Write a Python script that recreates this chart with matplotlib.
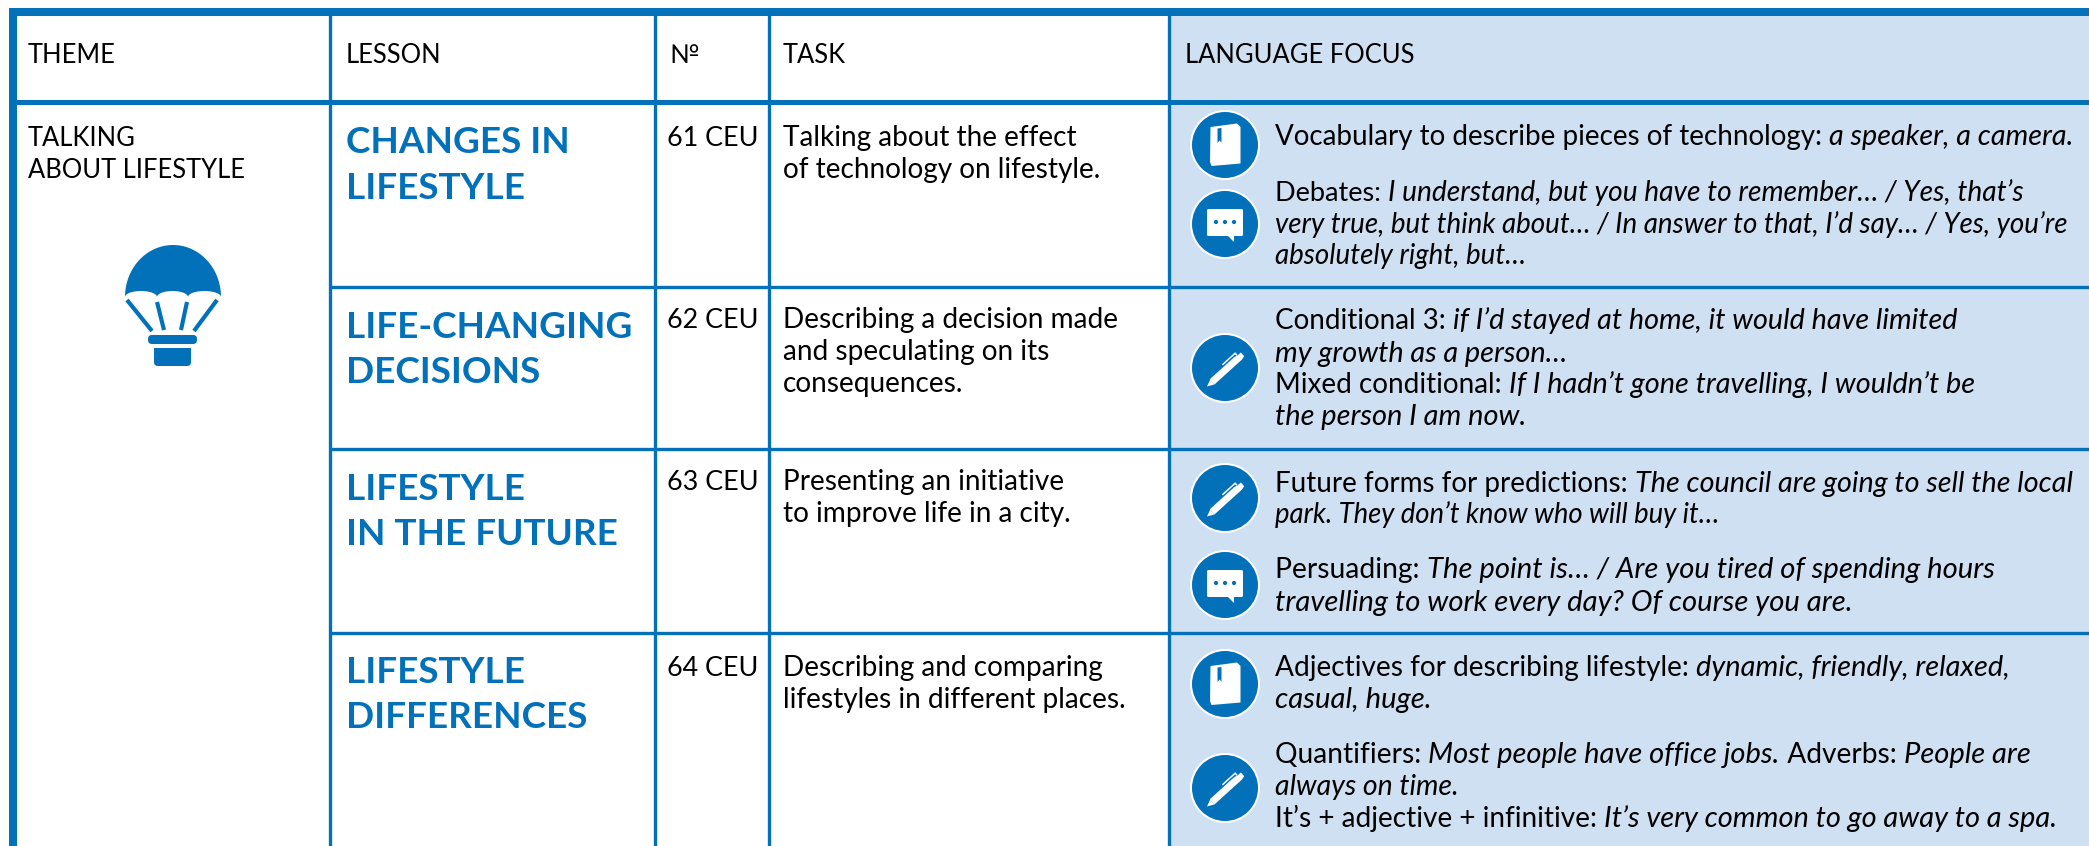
import matplotlib
matplotlib.use("Agg")
import numpy as np
import matplotlib.pyplot as plt
from matplotlib.patches import Circle, FancyBboxPatch, Polygon, Rectangle

BLUE = "#0271BA"
PALE = "#CFE0F3"
FONT = "Lato"
W, H = 2089, 846

headers = ["THEME", "LESSON", "№", "TASK", "LANGUAGE FOCUS"]
header_x = [28, 346, 669, 783, 1185]
theme_lines = ["TALKING", "ABOUT LIFESTYLE"]
lessons = [["CHANGES IN", "LIFESTYLE"], ["LIFE-CHANGING", "DECISIONS"], ["LIFESTYLE", "IN THE FUTURE"], ["LIFESTYLE", "DIFFERENCES"]]
lesson_y = [[153, 199], [338, 383], [500, 545], [683, 728]]
numbers = ["61 CEU", "62 CEU", "63 CEU", "64 CEU"]
number_y = [146, 328, 490, 676]
tasks = [
    ["Talking about the effect", "of technology on lifestyle."],
    ["Describing a decision made", "and speculating on its", "consequences."],
    ["Presenting an initiative", "to improve life in a city."],
    ["Describing and comparing", "lifestyles in different places."],
]
# each line is (baseline, right edge, [(text, italic), ...])
focus_lines = [
    (145, 2072, [("Vocabulary to describe pieces of technology: ", 0), ("a speaker, a camera.", 1)]),
    (201, 2025, [("Debates: ", 0), ("I understand, but you have to remember… / Yes, that’s", 1)]),
    (233, 2070, [("very true, but think about… / In answer to that, I’d say… / Yes, you’re", 1)]),
    (264, 1526, [("absolutely right, but…", 1)]),
    (329, 1958, [("Conditional 3: ", 0), ("if I’d stayed at home, it would have limited", 1)]),
    (362, 1567, [("my growth as a person…", 1)]),
    (393, 1975, [("Mixed conditional: ", 0), ("If I hadn’t gone travelling, I wouldn’t be", 1)]),
    (425, 1527, [("the person I am now.", 1)]),
    (492, 2072, [("Future forms for predictions: ", 0), ("The council are going to sell the local", 1)]),
    (523, 1721, [("park. They don’t know who will buy it…", 1)]),
    (578, 1994, [("Persuading: ", 0), ("The point is… / Are you tired of spending hours", 1)]),
    (611, 1854, [("travelling to work every day? Of course you are.", 1)]),
    (676, 2009, [("Adjectives for describing lifestyle: ", 0), ("dynamic, friendly, relaxed,", 1)]),
    (708, 1432, [("casual, huge.", 1)]),
    (763, 2029, [("Quantifiers: ", 0), ("Most people have office jobs.", 1), (" Adverbs: ", 0), ("People are", 1)]),
    (795, 1459, [("always on time.", 1)]),
    (827, 2057, [("It’s + adjective + infinitive: ", 0), ("It’s very common to go away to a spa.", 1)]),
]
icons = [("book", 145), ("bubble", 224), ("pen", 368), ("pen", 498), ("bubble", 585), ("book", 684), ("pen", 788)]
row_y = [287, 449, 633]
col_x = [330, 655, 769, 1169]


def line_width(ax, renderer, s, **kw):
    # trailing spaces get dropped by the extent, so measure against a marker
    a = ax.text(0, 0, s + "|", **kw)
    b = ax.text(0, 0, "|", **kw)
    w = a.get_window_extent(renderer).width - b.get_window_extent(renderer).width
    a.remove()
    b.remove()
    return w


def draw_book(ax, cx, cy):
    pts = [(-14.5, -18), (12, -21.5), (15.5, -18), (15.5, 18.5), (-13.5, 21), (-15, 17)]
    ax.add_patch(Polygon([(cx + x, cy + y) for x, y in pts], fc="white", ec="none", zorder=4))
    rib = [(-7.5, -16.5), (-3.5, -17), (-3.5, -2.5), (-5.5, -4.5), (-7.5, -2)]
    ax.add_patch(Polygon([(cx + x, cy + y) for x, y in rib], fc=BLUE, ec="none", zorder=5))


def draw_bubble(ax, cx, cy):
    ax.add_patch(FancyBboxPatch((cx - 18, cy - 15), 36, 27, boxstyle="round,pad=0,rounding_size=1.5", fc="white", ec="none", zorder=4))
    tail = [(cx + 2, cy + 11), (cx + 9, cy + 18), (cx + 9, cy + 11)]
    ax.add_patch(Polygon(tail, fc="white", ec="none", zorder=4))
    for dx in (-9, 0, 9):
        ax.add_patch(Circle((cx + dx, cy - 2), 2.1, fc=BLUE, ec="none", zorder=5))


def draw_pen(ax, cx, cy):
    # local frame: u runs along the pen from tip to top, v across it
    tip = np.array([cx - 18, cy + 18.5])
    u = np.array([0.74, -0.67])
    v = np.array([0.67, 0.74])
    body = [(0, 0), (7, -3), (7, 3.5)]
    tube = [(7, -3.5), (40, -3.5), (44, -2.5), (48, -2.5), (48, 2.5), (44, 3.5), (7, 3.5)]
    clip = [(26, -6.5), (44, -6.5), (44, -3), (42.5, -3), (42.5, -5), (26, -5)]
    for shape in (body, tube, clip):
        pts = [tip + a * u + b * v for a, b in shape]
        ax.add_patch(Polygon(pts, fc="white", ec="none", zorder=4))


def draw_balloon(ax):
    t = np.linspace(np.pi, 2 * np.pi, 80)
    dome = np.column_stack([173 + 48 * np.cos(t), 297 + 52 * np.sin(t)])
    cusp = [221, 188, 157, 125]
    scallops = []
    for x0, x1 in zip(cusp[:-1], cusp[1:]):
        s = np.linspace(0, np.pi, 20)
        scallops.append(np.column_stack([(x0 + x1) / 2 + (x0 - x1) / 2 * np.cos(s), 297 - 6 * np.sin(s)]))
    ax.add_patch(Polygon(np.vstack([dome] + scallops), fc=BLUE, ec="none", zorder=3))
    strings = [((127, 300), (152, 331)), ((157, 302), (164, 330)), ((187, 302), (181, 330)), ((217, 300), (194, 331))]
    for p, q in strings:
        ax.plot([p[0], q[0]], [p[1], q[1]], color=BLUE, lw=3.0, solid_capstyle="butt", zorder=3)
    ax.add_patch(FancyBboxPatch((148, 335), 49, 9, boxstyle="round,pad=0,rounding_size=4", fc=BLUE, ec="none", zorder=3))
    ax.add_patch(Rectangle((154, 348), 37, 10, fc=BLUE, ec="none", zorder=3))
    ax.add_patch(FancyBboxPatch((154, 350), 37, 16, boxstyle="round,pad=0,rounding_size=4", fc=BLUE, ec="none", zorder=3))


def main() -> None:
    fig = plt.figure(figsize=(W / 100, H / 100), dpi=100)
    ax = fig.add_axes([0, 0, 1, 1])
    ax.set_xlim(0, W)
    ax.set_ylim(H, 0)
    ax.axis("off")
    renderer = fig.canvas.get_renderer()

    ax.add_patch(Rectangle((1169, 8), W - 1169, H, fc=PALE, ec="none", zorder=1))
    for x in col_x:
        ax.plot([x, x], [8, H], color=BLUE, lw=2.4, solid_capstyle="butt", zorder=2)
    for y in row_y:
        ax.plot([330, W], [y, y], color=BLUE, lw=2.4, solid_capstyle="butt", zorder=2)
    ax.add_patch(Rectangle((9, 8), W - 9, 8, fc=BLUE, ec="none", zorder=2))
    ax.add_patch(Rectangle((9, 8), 7.5, H, fc=BLUE, ec="none", zorder=2))
    ax.add_patch(Rectangle((9, 100.5), W - 9, 5, fc=BLUE, ec="none", zorder=2))

    base = dict(family=FONT, color="black", va="baseline", ha="left", zorder=6)
    caps = dict(base, fontsize=18.4)
    for x, s in zip(header_x, headers):
        ax.text(x, 63, s, **caps)
    ax.text(28, 146, theme_lines[0], **caps)
    ax.text(28, 178, theme_lines[1], **caps)

    for lines, ys in zip(lessons, lesson_y):
        for s, y in zip(lines, ys):
            ax.text(346, y, s, family=FONT, fontsize=26.6, fontweight="bold", color=BLUE, va="baseline", ha="left", zorder=6)

    for s, y, lines in zip(numbers, number_y, tasks):
        ax.text(667, y, s, **dict(base, fontsize=19.4))
        for i, line in enumerate(lines):
            ax.text(783, y + i * 32, line, **dict(base, fontsize=20.2))

    # Lato runs narrower than the source face, so each line is sized to its own right edge
    for y, right, runs in focus_lines:
        sized = [dict(base, style="italic" if italic else "normal", fontsize=20.3 if italic else 19.6) for _, italic in runs]
        total = sum(line_width(ax, renderer, s, **kw) for (s, _), kw in zip(runs, sized))
        scale = (right - 1275) / total
        x = 1275
        for (s, _), kw in zip(runs, sized):
            kw["fontsize"] *= scale
            ax.text(x, y, s, **kw)
            x += line_width(ax, renderer, s, **kw)

    draw_balloon(ax)
    drawers = {"book": draw_book, "bubble": draw_bubble, "pen": draw_pen}
    for kind, cy in icons:
        ax.add_patch(Circle((1225, cy), 35, fc="white", ec="none", zorder=3))
        ax.add_patch(Circle((1225, cy), 33, fc=BLUE, ec="none", zorder=3))
        drawers[kind](ax, 1225, cy)

    fig.savefig("out.png", dpi=100)
    plt.close(fig)


if __name__ == "__main__":
    main()
